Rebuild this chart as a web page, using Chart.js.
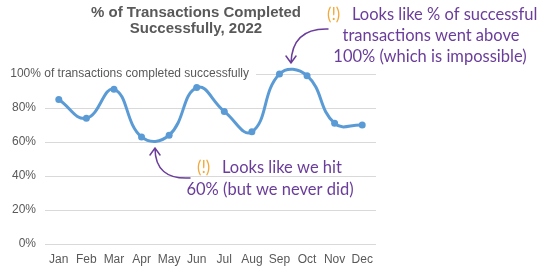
<!DOCTYPE html>
<html>
<head>
<meta charset="utf-8">
<script src="https://cdn.jsdelivr.net/npm/chart.js@4"></script>
<style>
  html, body { margin: 0; padding: 0; background: #fff; }
  #wrap { width: 540px; height: 267px; position: relative; }
</style>
</head>
<body>
<div id="wrap"><canvas id="c" width="540" height="267"></canvas></div>
<script>
'use strict';

/* ── Data ─────────────────────────────────────────── */
const months = ['Jan', 'Feb', 'Mar', 'Apr', 'May', 'Jun', 'Jul', 'Aug', 'Sep', 'Oct', 'Nov', 'Dec'];
const pctSuccess = [85, 74, 91, 63, 64, 92, 78, 66, 100, 99, 71, 70];
const yTicks = [0, 20, 40, 60, 80, 100];
const titleLines = ['% of Transactions Completed', 'Successfully, 2022'];
const topLabel = '100% of transactions completed successfully';
const noteHigh = ['Looks like % of successful', 'transactions went above', '100% (which is impossible)'];
const noteLow = ['Looks like we hit', '60% (but we never did)'];

const GREY = '#595959';
const PURPLE = '#6a3d9a';
const ORANGE = '#f2a93b';
const HAND = '16.5px Lato, "Noto Sans", sans-serif';

// Title, the inline 100% label and the two hand-written notes with arrows.
const decorPlugin = {
  id: 'decor',
  afterDraw(ch) {
    const ctx = ch.ctx;
    const ys = ch.scales.y;
    ctx.save();

    // title
    ctx.fillStyle = GREY;
    ctx.font = 'bold 15px "Liberation Sans", Arial, sans-serif';
    ctx.textAlign = 'center';
    ctx.textBaseline = 'middle';
    ctx.fillText(titleLines[0], 196, 13);
    ctx.fillText(titleLines[1], 196, 29);

    // label sitting on the 100% gridline
    const y100 = ys.getPixelForValue(100);
    ctx.fillStyle = '#fff';
    ctx.fillRect(0, y100 - 7, 256, 14);
    ctx.fillStyle = GREY;
    ctx.font = '12px "Liberation Sans", Arial, sans-serif';
    ctx.textAlign = 'right';
    ctx.fillText(topLabel, 249, y100);

    // notes
    ctx.font = HAND;
    ctx.textAlign = 'left';
    ctx.fillStyle = ORANGE;
    ctx.fillText('(!)', 327, 15);
    ctx.fillText('(!)', 197, 168);
    ctx.fillStyle = PURPLE;
    ctx.fillText(noteHigh[0], 352, 15);
    ctx.textAlign = 'center';
    ctx.fillText(noteHigh[1], 431, 36);
    ctx.fillText(noteHigh[2], 430, 57);
    ctx.textAlign = 'left';
    ctx.fillText(noteLow[0], 222, 168);
    ctx.textAlign = 'center';
    ctx.fillText(noteLow[1], 270, 190);

    // arrows
    ctx.strokeStyle = PURPLE;
    ctx.lineWidth = 1.5;
    ctx.lineCap = 'round';
    ctx.beginPath();
    ctx.moveTo(328, 29);
    ctx.quadraticCurveTo(292, 28, 291, 63);
    ctx.moveTo(286, 56); ctx.lineTo(291, 63); ctx.lineTo(296, 56);
    ctx.stroke();

    ctx.beginPath();
    ctx.moveTo(190, 178);
    ctx.quadraticCurveTo(155, 180, 155, 148);
    ctx.moveTo(150, 155); ctx.lineTo(155, 148); ctx.lineTo(160, 155);
    ctx.stroke();

    ctx.restore();
  }
};

new Chart(document.getElementById('c'), {
  type: 'line',
  data: {
    labels: months,
    datasets: [{
      data: pctSuccess,
      borderColor: '#5b9bd5',
      backgroundColor: '#5b9bd5',
      borderWidth: 3,
      tension: 0.45,
      pointRadius: 3.5,
      pointBorderWidth: 0,
      clip: false,
    }]
  },
  plugins: [decorPlugin],
  options: {
    responsive: false,
    animation: false,
    layout: { padding: { top: 74, right: 164, bottom: 0, left: 0 } },
    elements: { line: { capBezierPoints: false } },
    plugins: { legend: { display: false }, tooltip: { enabled: false }, title: { display: false } },
    scales: {
      x: {
        offset: true,
        grid: { display: false },
        border: { display: false },
        ticks: { color: GREY, font: { size: 12, family: '"Liberation Sans", Arial, sans-serif' }, padding: 0, maxRotation: 0, autoSkip: false },
        afterFit: s => { s.height = 23; }
      },
      y: {
        min: 0,
        max: 100,
        afterBuildTicks: s => { s.ticks = yTicks.map(v => ({ value: v })); },
        grid: { color: '#d9d9d9', lineWidth: 1, drawTicks: false },
        border: { display: false },
        ticks: {
          color: GREY,
          font: { size: 12, family: '"Liberation Sans", Arial, sans-serif' },
          padding: 9,
          callback: v => (v === 100 ? '' : v + '%')
        },
        afterFit: s => { s.width = 45; }
      }
    }
  }
});
</script>
</body>
</html>
